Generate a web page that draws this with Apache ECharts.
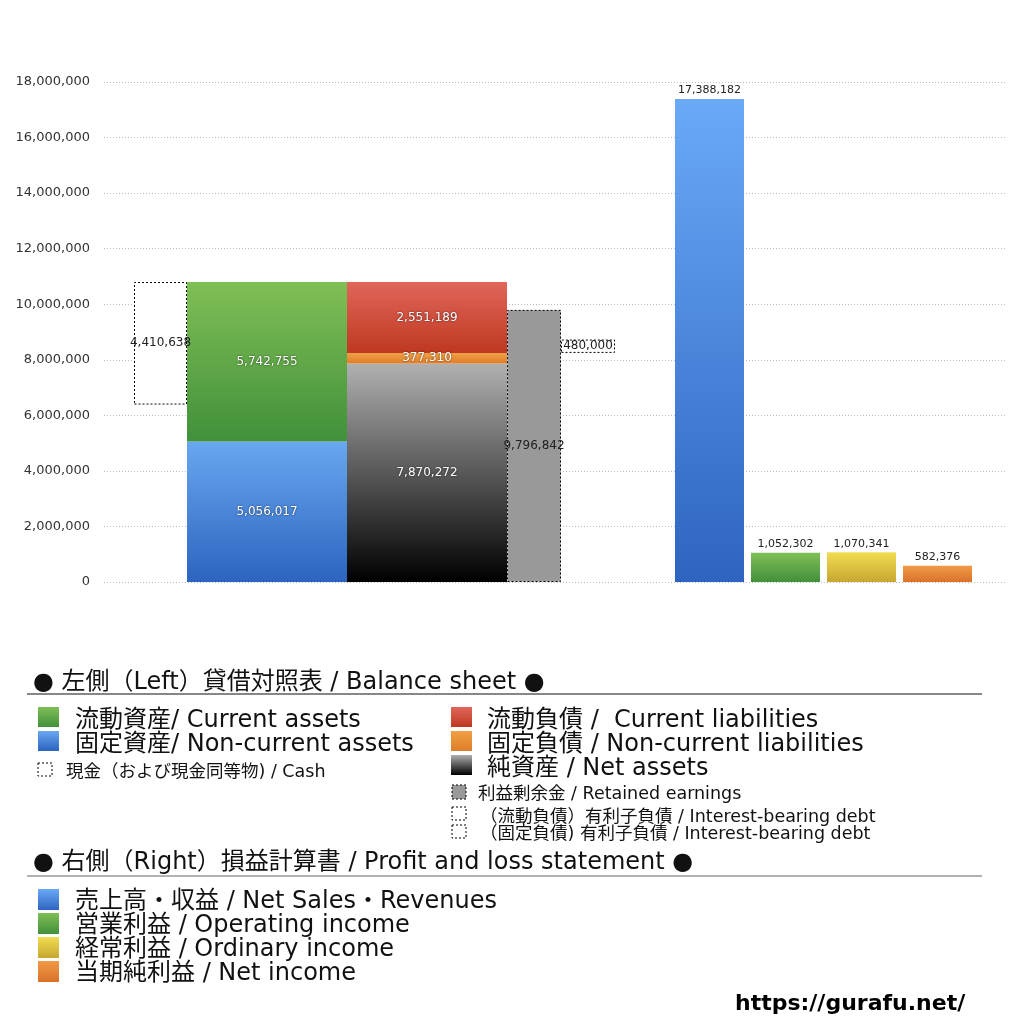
<!DOCTYPE html>
<html>
<head>
<meta charset="utf-8">
<script src="https://cdn.jsdelivr.net/npm/echarts@6/dist/echarts.min.js"></script>
<style>
  html, body { margin: 0; padding: 0; background: #fff; }
  #main { width: 1024px; height: 1024px; }
</style>
</head>
<body>
<div id="main"></div>
<script>
// 貸借対照表 (left)
var cash = [4410638];
var currentAssets = [5742755];
var nonCurrentAssets = [5056017];
var currentLiabilities = [2551189];
var nonCurrentLiabilities = [377310];
var netAssets = [7870272];
var retainedEarnings = [9796842];
var interestDebt = [480000];

// 損益計算書 (right)
var plNames = ['売上高・収益', '営業利益', '経常利益', '当期純利益'];
var plValues = [17388182, 1052302, 1070341, 582376];

var yTicks = { min: 0, max: 18000000, interval: 2000000 };

function grad(top, bottom) {
    return { type: 'linear', x: 0, y: 0, x2: 0, y2: 1,
        colorStops: [{ offset: 0, color: top }, { offset: 1, color: bottom }] };
}

var cGreen = grad('#80bf56', '#41903b');
var cBlue = grad('#69a7f0', '#2c64bf');
var cRed = grad('#e0665a', '#bf3820');
var cOrange = grad('#f0a046', '#df7e2a');
var cNet = grad('#b0b0b0', '#000000');
var cSales = grad('#6aa9f8', '#2d64c0');
var cYellow = grad('#f1dd52', '#c8a631');
var cNetInc = grad('#f09a46', '#d9722a');

var fmt = function (v) { return Number(v).toLocaleString('en-US'); };

var totalAssets = currentAssets[0] + nonCurrentAssets[0];
var cashBase = [totalAssets - cash[0]];
var debtBase = [netAssets[0] + nonCurrentLiabilities[0]];

var font = '"DejaVu Sans", "Noto Sans CJK JP", sans-serif';

var inLabel = {
    show: true, position: 'inside', fontSize: 12, color: '#fff', fontFamily: font,
    textShadowColor: 'rgba(0,0,0,0.7)', textShadowBlur: 2,
    formatter: function (p) { return fmt(p.value); }
};
var darkLabel = {
    show: true, position: 'inside', fontSize: 12, color: '#222', fontFamily: font,
    formatter: function (p) { return fmt(p.value); }
};
var dotted = { borderColor: '#000', borderWidth: 1, borderType: [2, 2] };

function bsBar(name, stack, width, data, itemStyle, label) {
    return {
        name: name, type: 'bar', xAxisIndex: 1, yAxisIndex: 1,
        stack: stack, barWidth: width, barGap: '0%', data: data,
        itemStyle: itemStyle, label: label || { show: false },
        emphasis: { disabled: true }, silent: true
    };
}

var series = [
    bsBar('cashBase', 'cash', 53, cashBase, { color: 'transparent' }),
    bsBar('現金', 'cash', 53, cash, Object.assign({ color: '#fff' }, dotted), darkLabel),
    bsBar('固定資産', 'assets', 160, nonCurrentAssets, { color: cBlue }, inLabel),
    bsBar('流動資産', 'assets', 160, currentAssets, { color: cGreen }, inLabel),
    bsBar('純資産', 'liab', 160, netAssets, { color: cNet }, inLabel),
    bsBar('固定負債', 'liab', 160, nonCurrentLiabilities, { color: cOrange }, inLabel),
    bsBar('流動負債', 'liab', 160, currentLiabilities, { color: cRed }, inLabel),
    bsBar('利益剰余金', 'ret', 54, retainedEarnings, Object.assign({ color: '#999' }, dotted), darkLabel),
    bsBar('debtBase', 'debt', 54, debtBase, { color: 'transparent' }),
    bsBar('有利子負債', 'debt', 54, interestDebt, Object.assign({ color: 'rgba(255,255,255,0)' }, dotted), darkLabel),
    {
        name: 'PL', type: 'bar', xAxisIndex: 2, yAxisIndex: 2, barWidth: 69,
        data: plValues.map(function (v, i) {
            return { value: v, itemStyle: { color: [cSales, cGreen, cYellow, cNetInc][i] } };
        }),
        label: { show: true, position: 'top', distance: 3, fontSize: 11, color: '#222', fontFamily: font,
            formatter: function (p) { return fmt(p.value); } },
        silent: true
    }
];

// 凡例
var graphics = [];
function txt(x, y, s, size) {
    graphics.push({ type: 'text', x: x, y: y + 2.5,
        style: { text: s, font: size + 'px ' + font, fill: '#111', verticalAlign: 'middle', align: 'left' } });
}
function box(x, y, w, h, fill, border) {
    var st = { fill: fill };
    if (border) { st.stroke = '#000'; st.lineWidth = 1; st.lineDash = [2, 2]; }
    graphics.push({ type: 'rect', shape: { x: x, y: y, width: w, height: h }, style: st });
}
function hline(y, color) {
    graphics.push({ type: 'line', shape: { x1: 27, y1: y, x2: 982, y2: y }, style: { stroke: color, lineWidth: 1.2 } });
}

txt(33, 680, '● 左側（Left）貸借対照表 / Balance sheet ●', 24);
hline(694, '#111');
box(38, 707, 21, 20, cGreen); txt(75, 718, '流動資産/ Current assets', 24);
box(38, 731, 21, 20, cBlue); txt(75, 742, '固定資産/ Non-current assets', 24);
box(38, 763, 14, 13, '#fff', true); txt(66, 770, '現金（および現金同等物) / Cash', 17.5);

box(451, 707, 21, 20, cRed); txt(487, 718, '流動負債 /  Current liabilities', 24);
box(451, 731, 21, 20, cOrange); txt(487, 742, '固定負債 / Non-current liabilities', 24);
box(451, 755, 21, 20, cNet); txt(487, 766, '純資産 / Net assets', 24);
box(452, 785, 14, 14, '#999', true); txt(478, 792, '利益剰余金 / Retained earnings', 17.5);
box(452, 807, 14, 13, '#fff', true); txt(480, 815, '（流動負債）有利子負債 / Interest-bearing debt', 17.5);
box(452, 825, 14, 13, '#fff', true); txt(480, 832, '（固定負債) 有利子負債 / Interest-bearing debt', 17.5);

txt(33, 860, '● 右側（Right）損益計算書 / Profit and loss statement ●', 24);
hline(876, '#666');
var plLegend = ['売上高・収益 / Net Sales・Revenues', '営業利益 / Operating income',
    '経常利益 / Ordinary income', '当期純利益 / Net income'];
var plCols = [cSales, cGreen, cYellow, cNetInc];
for (var i = 0; i < plLegend.length; i++) {
    box(38, 889 + i * 24, 21, 21, plCols[i]);
    txt(75, 899 + i * 24, plLegend[i], 24);
}
graphics.push({ type: 'text', x: 735, y: 1004,
    style: { text: 'https://gurafu.net/', font: 'bold 22px "DejaVu Sans", sans-serif', fill: '#000', verticalAlign: 'middle' } });

var myChart = echarts.init(document.getElementById('main'));
var option = {
    animation: false,
    backgroundColor: '#fff',
    grid: [
        { left: 104, right: 19, top: 82, bottom: 442 },
        { left: 134, right: 409, top: 82, bottom: 442 },
        { left: 671.5, right: 48.5, top: 82, bottom: 442 }
    ],
    xAxis: [
        { type: 'category', gridIndex: 0, data: [''], show: false },
        { type: 'category', gridIndex: 1, data: ['貸借対照表'], show: false },
        { type: 'category', gridIndex: 2, data: plNames, show: false }
    ],
    yAxis: [
        {
            type: 'value', gridIndex: 0, min: yTicks.min, max: yTicks.max, interval: yTicks.interval,
            axisLine: { show: false }, axisTick: { show: false },
            axisLabel: { margin: 14, fontSize: 13, color: '#333', fontFamily: font,
                formatter: function (v) { return fmt(v); } },
            splitLine: { show: true, lineStyle: { color: '#bbb', type: [1, 2], width: 1 } }
        },
        { type: 'value', gridIndex: 1, min: yTicks.min, max: yTicks.max, show: false, splitLine: { show: false } },
        { type: 'value', gridIndex: 2, min: yTicks.min, max: yTicks.max, show: false, splitLine: { show: false } }
    ],
    series: series,
    graphic: graphics
};
myChart.setOption(option);
</script>
</body>
</html>
